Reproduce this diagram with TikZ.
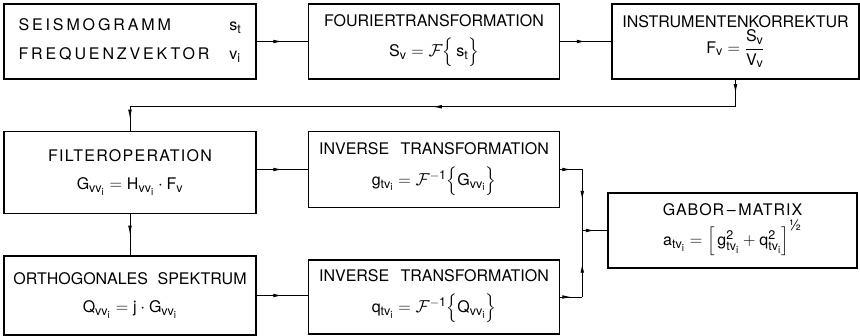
\documentclass[tikz,border=0pt]{standalone}
\usepackage{amssymb}
\usepackage{amsmath}
\usepackage{fontspec}
\setmainfont{TeX Gyre Heros}
\DeclareMathSizes{16}{16}{12.5}{10}
\usetikzlibrary{arrows.meta, positioning, decorations.markings}

\newcommand{\fourier}{\mathcal{F}}
\newcommand{\spaced}[1]{{\addfontfeatures{LetterSpace=18}#1}}

\begin{document}
\begin{tikzpicture}[
        x=1pt, y=1pt,
        node distance=51pt,
        box/.style={draw, line width=1.5pt, align=center, inner sep=0pt, minimum width=252pt, minimum height=75pt, font=\fontsize{16}{19}\selectfont},
        flow/.style={line width=0.8pt, postaction={decorate},
            decoration={markings, mark=at position 0.5 with {\arrow{Latex[length=9pt, width=3.6pt]}}}}
    ]
    \useasboundingbox (0,0) rectangle (860,-336);
    % first row
    \node[box] (seis) at (130,-41.5) {\begin{tabular}{@{}l@{\hspace{20pt}}l@{}}
        \spaced{SEISMOGRAMM} & $\mathrm{s_t}$\\[10pt]
        \spaced{FREQUENZVEKTOR} & $\mathrm{v_i}$
        \end{tabular}};
    \node[box, right=of seis, minimum width=251pt] (fourier) {FOURIERTRANSFORMATION\\[9pt] $\mathrm{S_v = \fourier\Big\{\, s_t \Big\}}$};
    \node[box, right=of fourier, minimum width=247pt] (instr) {INSTRUMENTENKORREKTUR\\[1pt] $\mathrm{F_v = \dfrac{S_v}{V_v}}$};
    % second and third row
    \node[box, below=of seis, minimum height=82pt] (filter) {{\addfontfeatures{LetterSpace=8}FILTEROPERATION}\\[9pt] $\mathrm{G_{vv_i} = H_{vv_i}\cdot F_v}$};
    \node[box, below=of fourier, minimum width=251pt, minimum height=76pt] (inv1) {INVERSE\hspace{0.7em}TRANSFORMATION\\[10pt] $\mathrm{g_{tv_i} = \fourier^{-1}\Big\{ G_{vv_i} \Big\}}$};
    \node[box, below=41pt of filter, minimum height=79pt] (ortho) {ORTHOGONALES\hspace{0.6em}SPEKTRUM\\[9pt] $\mathrm{Q_{vv_i} = j\cdot G_{vv_i}}$};
    \node[box, below=of inv1, minimum width=251pt, minimum height=74pt] (inv2) {INVERSE\hspace{0.7em}TRANSFORMATION\\[10pt] $\mathrm{q_{tv_i} = \fourier^{-1}\Big\{ Q_{vv_i} \Big\}}$};
    \node[box, minimum width=249pt] (gabor) at (732.5,-230.5) {{\addfontfeatures{LetterSpace=6}GABOR\,--\,MATRIX}\\[3pt] $\mathrm{a_{tv_i} = \Big[\, g_{tv_i}^{2} + q_{tv_i}^{2} \Big]^{\text{\fontsize{15}{15}\selectfont ½}}}$};
    % bends
    \coordinate[below=27pt of instr.south] (k1);
    \coordinate (k2) at (filter.north |- k1);
    \coordinate[left=25pt of gabor.west] (jm);
    \coordinate (j1) at (inv1.east -| jm);
    \coordinate (j2) at (inv2.east -| jm);
    % connectors
    \draw[flow] (seis) -- (fourier);
    \draw[flow] (fourier) -- (instr);
    \draw[flow] (instr.south) -- (k1);
    \draw[flow] (k1) -- (k2);
    \draw[flow] (k2) -- (filter.north);
    \draw[flow] (filter.east |- inv1.west) -- (inv1.west);
    \draw[flow] (filter) -- (ortho);
    \draw[flow] (ortho.east) -- (ortho.east -| inv2.west);
    \draw[flow] (inv1.east) -- (j1);
    \draw[flow] (j1) -- (jm);
    \draw[flow] (inv2.east) -- (j2);
    \draw[flow] (j2) -- (jm);
    \draw[flow] (jm) -- (gabor.west);
\end{tikzpicture}
\end{document}
